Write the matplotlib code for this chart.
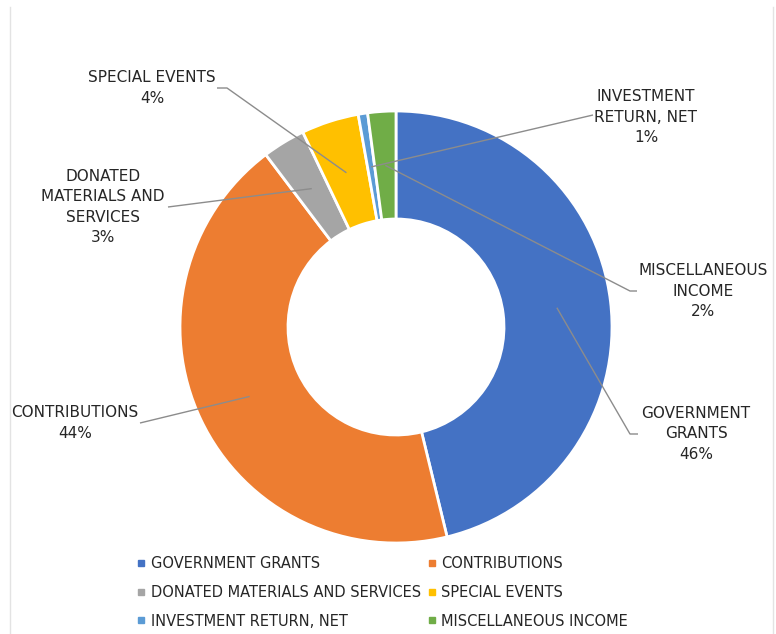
import numpy as np
import matplotlib.pyplot as plt
from matplotlib.lines import Line2D

# Data (shares of revenue)
categories = ["GOVERNMENT GRANTS", "CONTRIBUTIONS", "DONATED MATERIALS AND SERVICES",
              "SPECIAL EVENTS", "INVESTMENT RETURN, NET", "MISCELLANEOUS INCOME"]
shares = [46.2, 43.5, 3.2, 4.3, 0.7, 2.1]
pct_labels = ["46%", "44%", "3%", "4%", "1%", "2%"]
label_text = ["GOVERNMENT\nGRANTS", "CONTRIBUTIONS", "DONATED\nMATERIALS AND\nSERVICES",
              "SPECIAL EVENTS", "INVESTMENT\nRETURN, NET", "MISCELLANEOUS\nINCOME"]
colors = ["#4472C4", "#ED7D31", "#A5A5A5", "#FFC000", "#5B9BD5", "#70AD47"]

W, H = 776, 634
def Y(y):
    # image row -> data y
    return H - y

plt.rcParams['font.family'] = ['DejaVu Sans']
text_color = "#262626"
line_color = "#8c8c8c"

fig = plt.figure(figsize=(W / 100, H / 100), dpi=100)
ax = fig.add_axes([0, 0, 1, 1])
ax.axis("off")

cx, cy, R = 396, Y(327), 216
wedges, _ = ax.pie(shares, colors=colors, startangle=90, counterclock=False,
                   radius=R, center=(cx, cy),
                   wedgeprops=dict(width=R * 0.5, edgecolor="white", linewidth=2))
ax.set_xlim(0, W)
ax.set_ylim(0, H)
ax.set_aspect("equal")

# label boxes (image coords): text centre, then leader path from label side
label_pos = [(696, 434), (75, 423), (103, 207), (152, 88), (646, 117), (703, 291)]
leader_ends = [[(638, 434), (630, 434)],
               [(140, 423)],
               [(168, 207)],
               [(217, 88), (227, 88)],
               [(593, 115)],
               [(637, 291), (630, 291)]]

r_mid = R * 0.75
for i, w in enumerate(wedges):
    ang = np.deg2rad((w.theta1 + w.theta2) / 2)
    ax_pt = (cx + r_mid * np.cos(ang), cy + r_mid * np.sin(ang))
    pts = [(x, Y(y)) for x, y in leader_ends[i]] + [ax_pt]
    xs, ys = zip(*pts)
    ax.plot(xs, ys, color=line_color, lw=1, solid_capstyle="butt")
    lx, ly = label_pos[i]
    ax.text(lx, Y(ly), label_text[i] + "\n" + pct_labels[i], ha="center", va="center",
            multialignment="center", fontsize=11, color=text_color, linespacing=1.42)

# thin frame edges
ax.plot([10, 10], [0, Y(7)], color="#e3e3e3", lw=1)
ax.plot([773, 773], [0, Y(7)], color="#e3e3e3", lw=1)

# legend, filled column by column
order = [0, 2, 4, 1, 3, 5]
handles = [Line2D([], [], marker="s", ls="none", color=colors[i], markersize=5) for i in order]
leg = ax.legend(handles, [categories[i] for i in order], ncol=2, frameon=False,
                loc="upper left", bbox_to_anchor=(131 / W, 1 - 550 / H),
                fontsize=10.5, handlelength=0.6, handletextpad=0.35,
                columnspacing=0.45, labelspacing=0.95, borderaxespad=0)
for t in leg.get_texts():
    t.set_color(text_color)

fig.savefig("out.png", dpi=100)
